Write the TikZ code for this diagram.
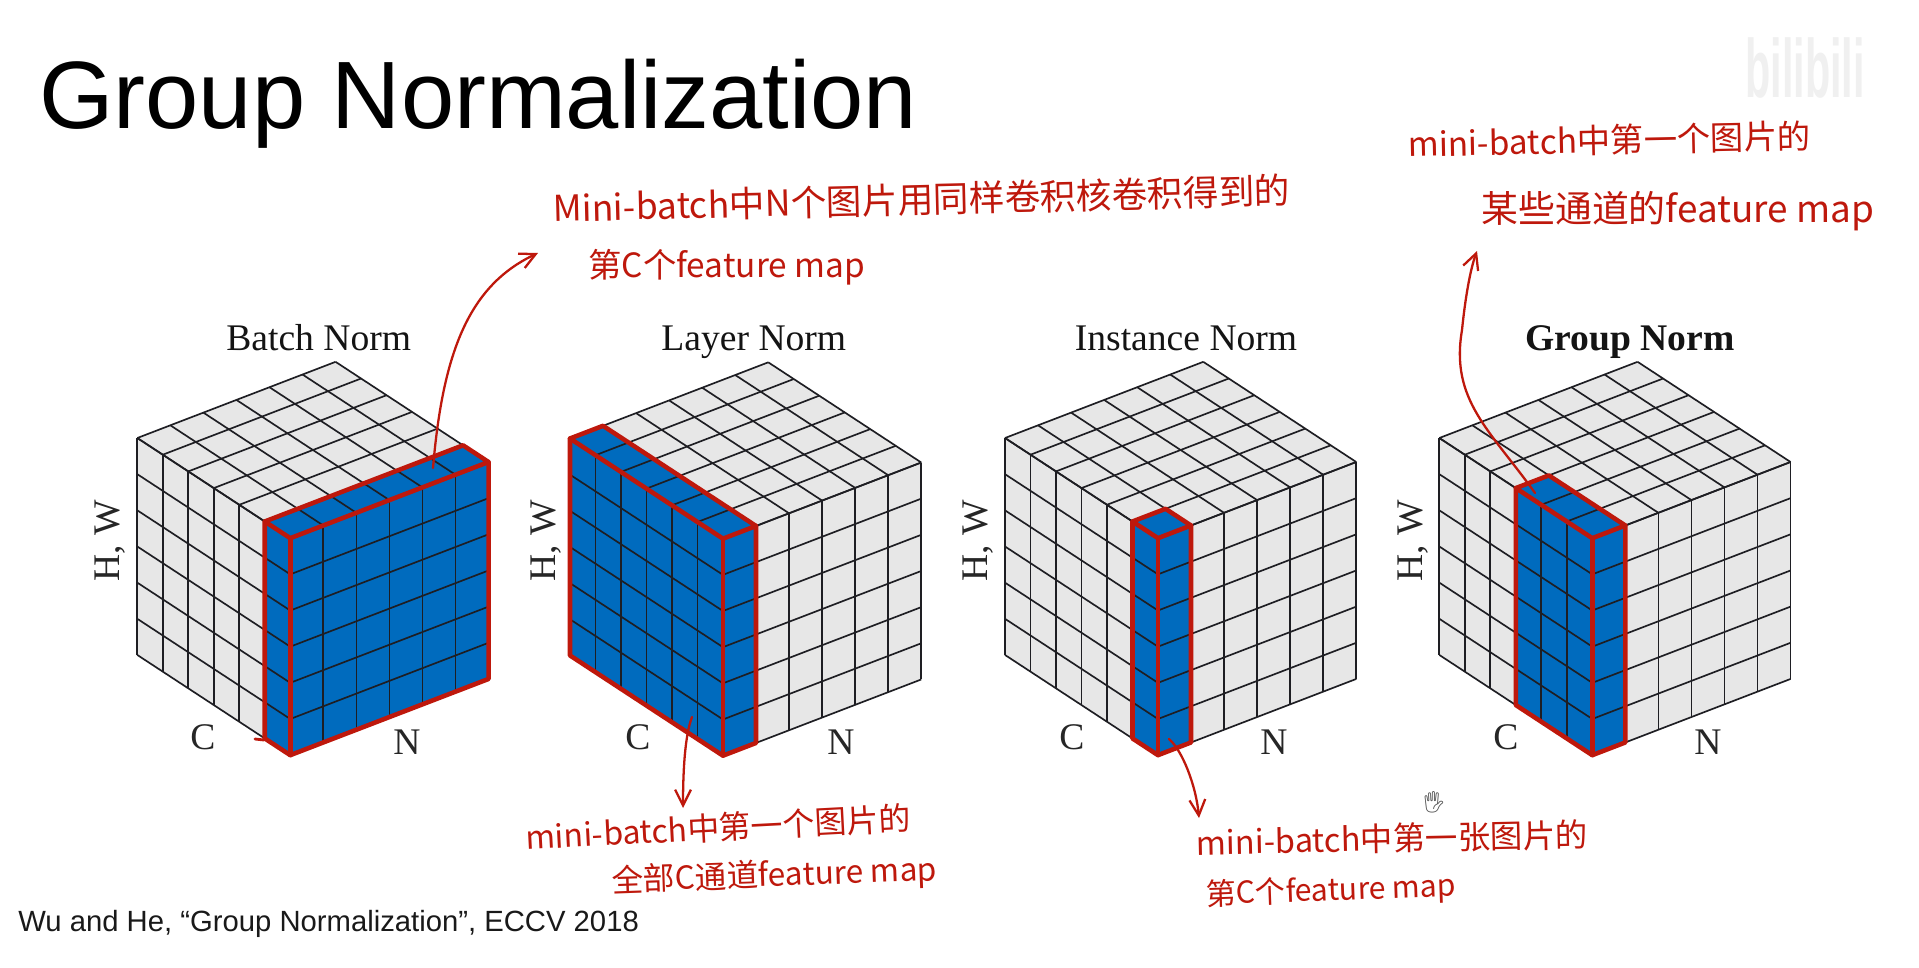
\documentclass[tikz,border=0pt]{standalone}
\usepackage{graphicx}
\usepackage{fontspec}
\setmainfont{Liberation Sans}
\newfontfamily\timesf{Liberation Serif}
\newfontfamily\cjk{Noto Sans CJK SC}
\newfontfamily\emojif{Noto Emoji}
\usetikzlibrary{arrows.meta}
\definecolor{facegray}{RGB}{231,231,231}
\definecolor{slabblue}{RGB}{0,107,190}
\definecolor{penred}{RGB}{190,24,12}
\definecolor{gridline}{RGB}{30,30,35}
\tikzset{
  gridstroke/.style={draw=gridline,line width=0.95pt},
  slabstroke/.style={draw=penred,line width=2.6pt,line join=round,line cap=round},
  pen/.style={draw=penred,line width=1.3pt,line cap=round,-{Straight Barb[length=9pt,width=9pt,line width=1.3pt]}},
  note/.style={text=penred,anchor=base west,inner sep=0pt},
  cubetitle/.style={anchor=base,inner sep=0pt,font=\timesf\fontsize{21.4pt}{24pt}\selectfont,text=black!92},
  axislabel/.style={anchor=center,inner sep=0pt,font=\timesf\fontsize{21.4pt}{24pt}\selectfont,text=black!85},
  hwlabel/.style={anchor=base,rotate=90,inner sep=0pt,font=\timesf\fontsize{21.4pt}{24pt}\selectfont,text=black!85}
}
% #1 x, #2 y of the left corner, #3 first blue column along C, #4 blue depth along N
\newcommand{\normcube}[4]{%
  \begin{scope}[shift={(#1,#2)},x={(0.51cm,-0.334cm)},y={(0.661cm,0.254cm)},z={(0cm,-0.7233cm)}]
    \fill[facegray] (0,0,0) -- (0,6,0) -- (6,6,0) -- (6,6,6) -- (6,0,6) -- (0,0,6) -- cycle;
    \fill[slabblue] (#3,0,0) -- (6,0,0) -- (6,#4,0) -- (#3,#4,0) -- cycle;
    \fill[slabblue] (#3,0,0) -- (6,0,0) -- (6,0,6) -- (#3,0,6) -- cycle;
    \fill[slabblue] (6,0,0) -- (6,#4,0) -- (6,#4,6) -- (6,0,6) -- cycle;
    \foreach \k in {0,...,6}{
      \draw[gridstroke] (\k,0,0) -- (\k,6,0);
      \draw[gridstroke] (0,\k,0) -- (6,\k,0);
      \draw[gridstroke] (\k,0,0) -- (\k,0,6);
      \draw[gridstroke] (0,0,\k) -- (6,0,\k);
      \draw[gridstroke] (6,\k,0) -- (6,\k,6);
      \draw[gridstroke] (6,0,\k) -- (6,6,\k);
    }
    \draw[slabstroke] (#3,0,0) -- (6,0,0) -- (6,#4,0) -- (#3,#4,0) -- cycle;
    \draw[slabstroke] (#3,0,0) -- (#3,0,6) -- (6,0,6) -- (6,#4,6) -- (6,#4,0);
    \draw[slabstroke] (6,0,0) -- (6,0,6);
  \end{scope}
}
\begin{document}
\begin{tikzpicture}[x=0.02cm,y=-0.02cm]
\useasboundingbox (0,0) rectangle (1919,967);
\fill[white] (0,0) rectangle (1919,967);

\node[anchor=base west,inner sep=0pt,font=\fontsize{54.5pt}{60pt}\selectfont,text=black] (title) at (39,128) {Group Normalization};
\node[anchor=base west,inner sep=0pt,font=\fontsize{16.65pt}{20pt}\selectfont,text=black!90] (cite) at (18,931) {Wu and He, “Group Normalization”, ECCV 2018};
\node[anchor=base west,inner sep=0pt,font=\bfseries\fontsize{47pt}{50pt}\selectfont,text=black!6] (mark) at (1745,97) {\scalebox{0.5}[1]{bilibili}};

\normcube{137.3}{438}{5}{6}
\normcube{570}{438.5}{0}{1}
\normcube{1005}{438}{5}{1}
\normcube{1439.3}{438}{3}{1}

\node[cubetitle] (t1) at (318.7,350) {Batch Norm};
\node[cubetitle] (t2) at (753.8,350) {Layer Norm};
\node[cubetitle] (t3) at (1186,350) {Instance Norm};
\node[cubetitle,font=\timesf\bfseries\fontsize{21.4pt}{24pt}\selectfont] (t4) at (1630,350) {Group Norm};

\node[hwlabel] (h1) at (119,541) {H, W};
\node[hwlabel] (h2) at (555,541) {H, W};
\node[hwlabel] (h3) at (987,541) {H, W};
\node[hwlabel] (h4) at (1422,541) {H, W};
\node[axislabel] (c1) at (203,737) {C};
\node[axislabel] (c2) at (638,737) {C};
\node[axislabel] (c3) at (1072,737) {C};
\node[axislabel] (c4) at (1506,737) {C};
\node[axislabel] (n1) at (407,742) {N};
\node[axislabel] (n2) at (841,742) {N};
\node[axislabel] (n3) at (1274,742) {N};
\node[axislabel] (n4) at (1708,742) {N};

\coordinate (tick) at (255,739);
\coordinate (tickend) at (264,740);
\draw[slabstroke,line width=1.6pt] (tick) -- (tickend);

\node[note,rotate=1.4,font=\cjk\fontsize{20.3pt}{24pt}\selectfont] (nb1) at (553,222) {Mini-batch中N个图片用同样卷积核卷积得到的};
\node[note,font=\cjk\fontsize{19pt}{24pt}\selectfont] (nb2) at (588,277) {第C个feature map};
\node[note,rotate=1.2,font=\cjk\fontsize{19pt}{24pt}\selectfont] (ng1) at (1408,157) {mini-batch中第一个图片的};
\node[note,font=\cjk\fontsize{21pt}{24pt}\selectfont] (ng2) at (1481,222) {某些通道的feature map};
\node[note,rotate=3,font=\cjk\fontsize{18.2pt}{24pt}\selectfont] (nl1) at (526,850) {mini-batch中第一个图片的};
\node[note,rotate=2,font=\cjk\fontsize{18pt}{24pt}\selectfont] (nl2) at (612,892) {全部C通道feature map};
\node[note,rotate=1.2,font=\cjk\fontsize{18.5pt}{24pt}\selectfont] (ni1) at (1196,855) {mini-batch中第一张图片的};
\node[note,rotate=2,font=\cjk\fontsize{17.2pt}{24pt}\selectfont] (ni2) at (1206,905) {第C个feature map};
\node[anchor=center,inner sep=0pt,text=black!70,font=\emojif\fontsize{12pt}{14pt}\selectfont] (hand) at (1434,802) {🖐};

\coordinate (a1s) at (433,468);
\coordinate (a1e) at (538,253);
\coordinate (a2s) at (692,717);
\coordinate (a2e) at (683,808);
\coordinate (a3s) at (1169,739);
\coordinate (a3e) at (1199,818);
\coordinate (a4s) at (1535,493);
\coordinate (a4e) at (1477,251);
\draw[pen] (a1s) .. controls (443,350) and (470,285) .. (a1e);
\draw[pen] (a2s) .. controls (685,735) and (683,770) .. (a2e);
\draw[pen] (a3s) .. controls (1182,750) and (1196,785) .. (a3e);
\draw[pen] (a4s) .. controls (1490,430) and (1450,400) .. (1462,330) .. controls (1465,300) and (1470,270) .. (a4e);
\end{tikzpicture}
\end{document}
